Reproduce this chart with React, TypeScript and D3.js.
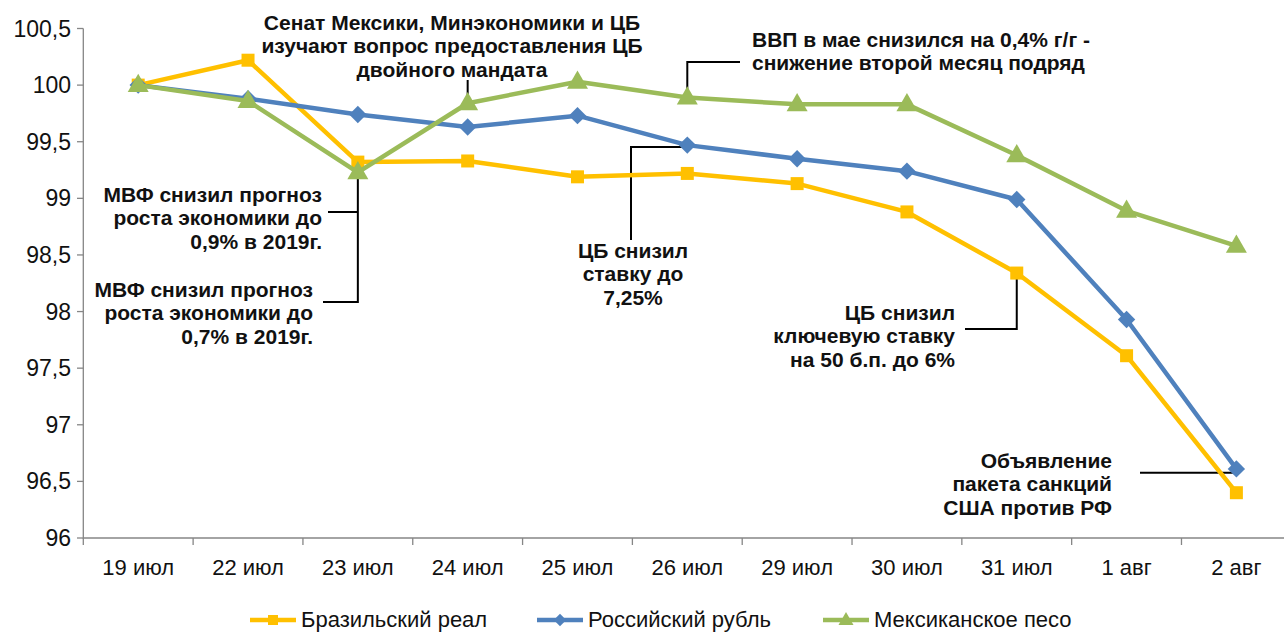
import React from 'react';
import * as d3 from 'd3';

// categories and series
const dates = ['19 июл', '22 июл', '23 июл', '24 июл', '25 июл', '26 июл', '29 июл', '30 июл', '31 июл', '1 авг', '2 авг'];
const brl = [100, 100.22, 99.32, 99.33, 99.19, 99.22, 99.13, 98.88, 98.34, 97.61, 96.4];
const rub = [100, 99.88, 99.74, 99.63, 99.73, 99.47, 99.35, 99.24, 98.99, 97.93, 96.61];
const mxn = [100, 99.86, 99.23, 99.84, 100.03, 99.89, 99.83, 99.83, 99.38, 98.89, 98.58];
const yTicks = [96, 96.5, 97, 97.5, 98, 98.5, 99, 99.5, 100, 100.5];
const seriesNames = ['Бразильский реал', 'Российский рубль', 'Мексиканское песо'];

// callout texts
const noteSenate = ['Сенат Мексики, Минэкономики и ЦБ', 'изучают вопрос предоставления ЦБ', 'двойного мандата'];
const noteImf09 = ['МВФ снизил прогноз', 'роста экономики до', '0,9% в 2019г.'];
const noteImf07 = ['МВФ снизил прогноз', 'роста экономики до', '0,7% в 2019г.'];
const noteRate725 = ['ЦБ снизил', 'ставку до', '7,25%'];
const noteGdp = ['ВВП в мае снизился на 0,4% г/г -', 'снижение второй месяц подряд'];
const noteRate6 = ['ЦБ снизил', 'ключевую ставку', 'на 50 б.п. до 6%'];
const noteSanctions = ['Объявление', 'пакета санкций', 'США против РФ'];

const W = 1284;
const H = 632;
const FONT = '"Liberation Sans", Arial, sans-serif';

const colors = ['#FFC000', '#4F81BD', '#9BBB59'];

const Marker = ({ kind, x, y, s }: { kind: number; x: number; y: number; s: number }) => {
  if (kind === 0) {
    return <rect x={x - s / 2} y={y - s / 2} width={s} height={s} fill={colors[0]} />;
  }
  if (kind === 1) {
    const r = s * 0.62;
    return <path d={`M${x},${y - r}L${x + r},${y}L${x},${y + r}L${x - r},${y}Z`} fill={colors[1]} />;
  }
  const h = s * 1.3;
  const w = s * 1.5;
  return <path d={`M${x},${y - h * 0.62}L${x + w / 2},${y + h * 0.38}L${x - w / 2},${y + h * 0.38}Z`} fill={colors[2]} />;
};

const Note = ({ lines, x, y, anchor }: { lines: string[]; x: number; y: number; anchor: string }) => (
  <text x={x} y={y} textAnchor={anchor} fontFamily={FONT} fontWeight="bold" fontSize={21} fill="#111">
    {lines.map((l, i) => (
      <tspan key={i} x={x} dy={i === 0 ? 0 : 23.4}>{l}</tspan>
    ))}
  </text>
);

const App = () => {
  const x = d3.scaleBand<string>().domain(dates).range([83.3, 1291.3]);
  const y = d3.scaleLinear().domain([96, 100.5]).range([538, 28.5]);
  const cx = (i: number) => (x(dates[i]) as number) + x.bandwidth() / 2;

  const line = d3.line<number>().x((_, i) => cx(i)).y((d) => y(d));
  const series = [brl, rub, mxn];

  const bounds = dates.map((d) => x(d) as number).concat([x.range()[1]]);

  const connectors = [
    // Senate -> green 24 jul
    `M${cx(3)},80 V${y(mxn[3])}`,
    // IMF -> green 23 jul
    `M${cx(2)},${y(mxn[2])} V302 H323 M${cx(2)},212 H328`,
    // rate 7.25 -> blue 26 jul
    `M631,240 V147 H${cx(5)}`,
    // GDP -> green 26 jul
    `M740,62 H${cx(5)} V${y(mxn[5])}`,
    // rate 6 -> yellow 31 jul
    `M965,329 H${cx(8)} V${y(brl[8])}`,
    // sanctions -> blue 2 aug
    `M1140,472.7 H${cx(10)}`,
  ];

  const legendX = [250, 537, 823];

  return (
    <svg width={W} height={H} style={{ position: 'absolute', left: 0, top: 0, background: '#fff' }}>
      {/* axes */}
      <g stroke="#868686" strokeWidth={1.3} fill="none">
        <path d={`M83.3,${y(100.5)} V538 H${W}`} />
        {yTicks.map((t) => (
          <path key={t} d={`M77,${y(t)} H83.3`} />
        ))}
        {bounds.map((b, i) => (
          <path key={i} d={`M${b},538 V545`} />
        ))}
      </g>
      {yTicks.map((t) => (
        <text key={t} x={71} y={y(t) + 8} textAnchor="end" fontFamily={FONT} fontSize={23} fill="#111">
          {d3.format('')(t).replace('.', ',')}
        </text>
      ))}
      {dates.map((d, i) => (
        <text key={d} x={cx(i)} y={575} textAnchor="middle" fontFamily={FONT} fontSize={22} fill="#111">
          {d}
        </text>
      ))}

      {/* callout leaders */}
      <g stroke="#000" strokeWidth={2} fill="none">
        {connectors.map((c, i) => (
          <path key={i} d={c} />
        ))}
      </g>

      {/* series */}
      {series.map((s, k) => (
        <g key={k}>
          <path d={line(s) as string} fill="none" stroke={colors[k]} strokeWidth={4.5} strokeLinejoin="round" />
          {s.map((v, i) => (
            <Marker key={i} kind={k} x={cx(i)} y={y(v)} s={k === 0 ? 13 : 14} />
          ))}
        </g>
      ))}

      {/* callout texts */}
      <Note lines={noteSenate} x={452} y={30} anchor="middle" />
      <Note lines={noteImf09} x={322} y={202} anchor="end" />
      <Note lines={noteImf07} x={313} y={297} anchor="end" />
      <Note lines={noteRate725} x={633} y={258} anchor="middle" />
      <Note lines={noteGdp} x={752} y={47} anchor="start" />
      <Note lines={noteRate6} x={955} y={320} anchor="end" />
      <Note lines={noteSanctions} x={1112} y={468} anchor="end" />

      {/* legend */}
      {seriesNames.map((n, k) => (
        <g key={n}>
          <path d={`M${legendX[k]},620 H${legendX[k] + 46}`} stroke={colors[k]} strokeWidth={4.5} />
          <Marker kind={k} x={legendX[k] + 23} y={620} s={10} />
          <text x={legendX[k] + 51} y={627} fontFamily={FONT} fontSize={22} fill="#111">
            {n}
          </text>
        </g>
      ))}
    </svg>
  );
};

export default App;
